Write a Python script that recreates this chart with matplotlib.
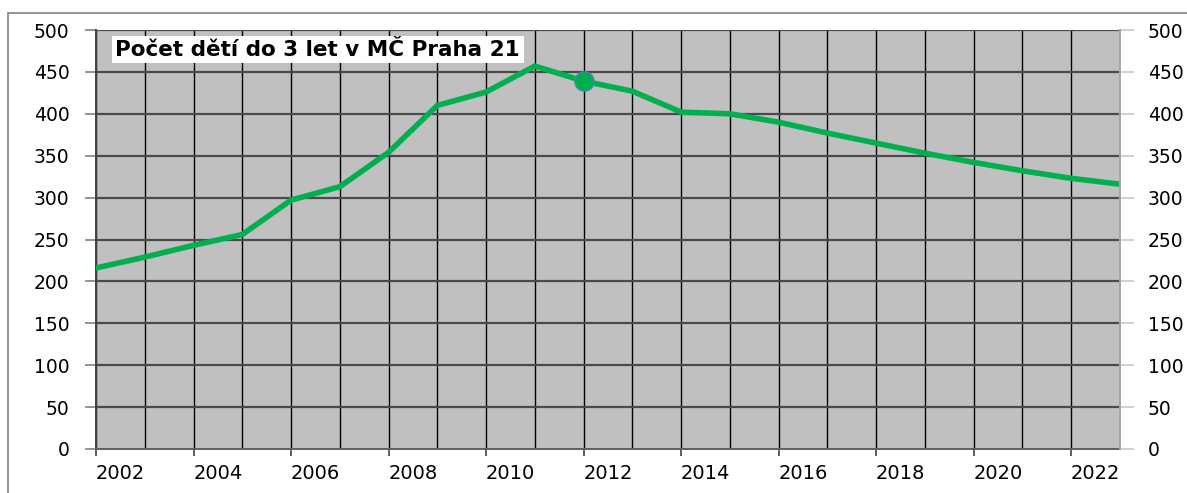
import matplotlib.pyplot as plt
from matplotlib.patches import Rectangle
from matplotlib.ticker import FixedLocator, MultipleLocator, NullFormatter

# Počet dětí do 3 let (22 points)
values = [216, 229, 243, 256, 297, 313, 354, 410, 426, 457, 439,
          427, 402, 400, 390, 377, 365, 353, 342, 332, 323, 316]
label_years = list(range(2002, 2023, 2))
highlight = 10  # point with the round marker
title = "Počet dětí do 3 let v MČ Praha 21"

green = "#00B050"
x = list(range(len(values)))

fig = plt.figure(figsize=(11.87, 4.93), dpi=100)
ax = fig.add_axes([96 / 1187, 1 - 449 / 493, 1024 / 1187, 419 / 493])
ax.set_facecolor("#C0C0C0")

# outer chart frame
fig.add_artist(Rectangle((8 / 1187, -0.1), 1.2, 1.1 - 13 / 493,
                         transform=fig.transFigure, fill=False,
                         edgecolor="#808080", linewidth=1.2))

ax.set_xlim(0, len(values) - 1)
ax.set_ylim(0, 500)

# grid
for i in x:
    ax.axvline(i, color="black", linewidth=1.0, zorder=1)
for v in range(50, 501, 50):
    ax.axhline(v, color="#4a4a4a", linewidth=1.6, zorder=1)

ax.plot(x, values, color=green, linewidth=4.0, solid_joinstyle="miter", zorder=3)
ax.plot(x[highlight], values[highlight], "o", color=green, markersize=14,
        markeredgecolor="#4F81BD", markeredgewidth=0.8, zorder=4)

# x axis: ticks on every second gridline, labels in between
ax.xaxis.set_major_locator(MultipleLocator(2))
ax.xaxis.set_major_formatter(NullFormatter())
ax.xaxis.set_minor_locator(FixedLocator([(y - label_years[0]) + 0.5 for y in label_years]))
ax.set_xticklabels([str(y) for y in label_years], minor=True)
ax.tick_params(axis="x", which="major", length=5, color="#404040", width=1.2)
ax.tick_params(axis="x", which="minor", length=0, pad=11, labelsize=14)

ax.yaxis.set_major_locator(MultipleLocator(50))
ax.tick_params(axis="y", length=8, color="#808080", width=1.2, pad=11, labelsize=13.5)

for s in ["top", "right"]:
    ax.spines[s].set_visible(False)
ax.spines["left"].set_color("#404040")
ax.spines["left"].set_linewidth(1.4)
ax.spines["bottom"].set_color("#606060")
ax.spines["bottom"].set_linewidth(1.4)

ax2 = ax.twinx()
ax2.set_ylim(0, 500)
ax2.yaxis.set_major_locator(MultipleLocator(50))
ax2.tick_params(axis="y", length=10, color="#C8C8C8", width=1.2, pad=10, labelsize=13.5)
for s in ["top", "left", "bottom"]:
    ax2.spines[s].set_visible(False)
ax2.spines["right"].set_color("#A6A6A6")
ax2.spines["right"].set_linewidth(1.4)

ax.text(0.019, 0.977, title, transform=ax.transAxes, ha="left", va="top",
        fontsize=15.5, fontweight="bold", zorder=5,
        bbox=dict(facecolor="white", edgecolor="none", pad=2.5))

fig.savefig("out.png", dpi=100)
